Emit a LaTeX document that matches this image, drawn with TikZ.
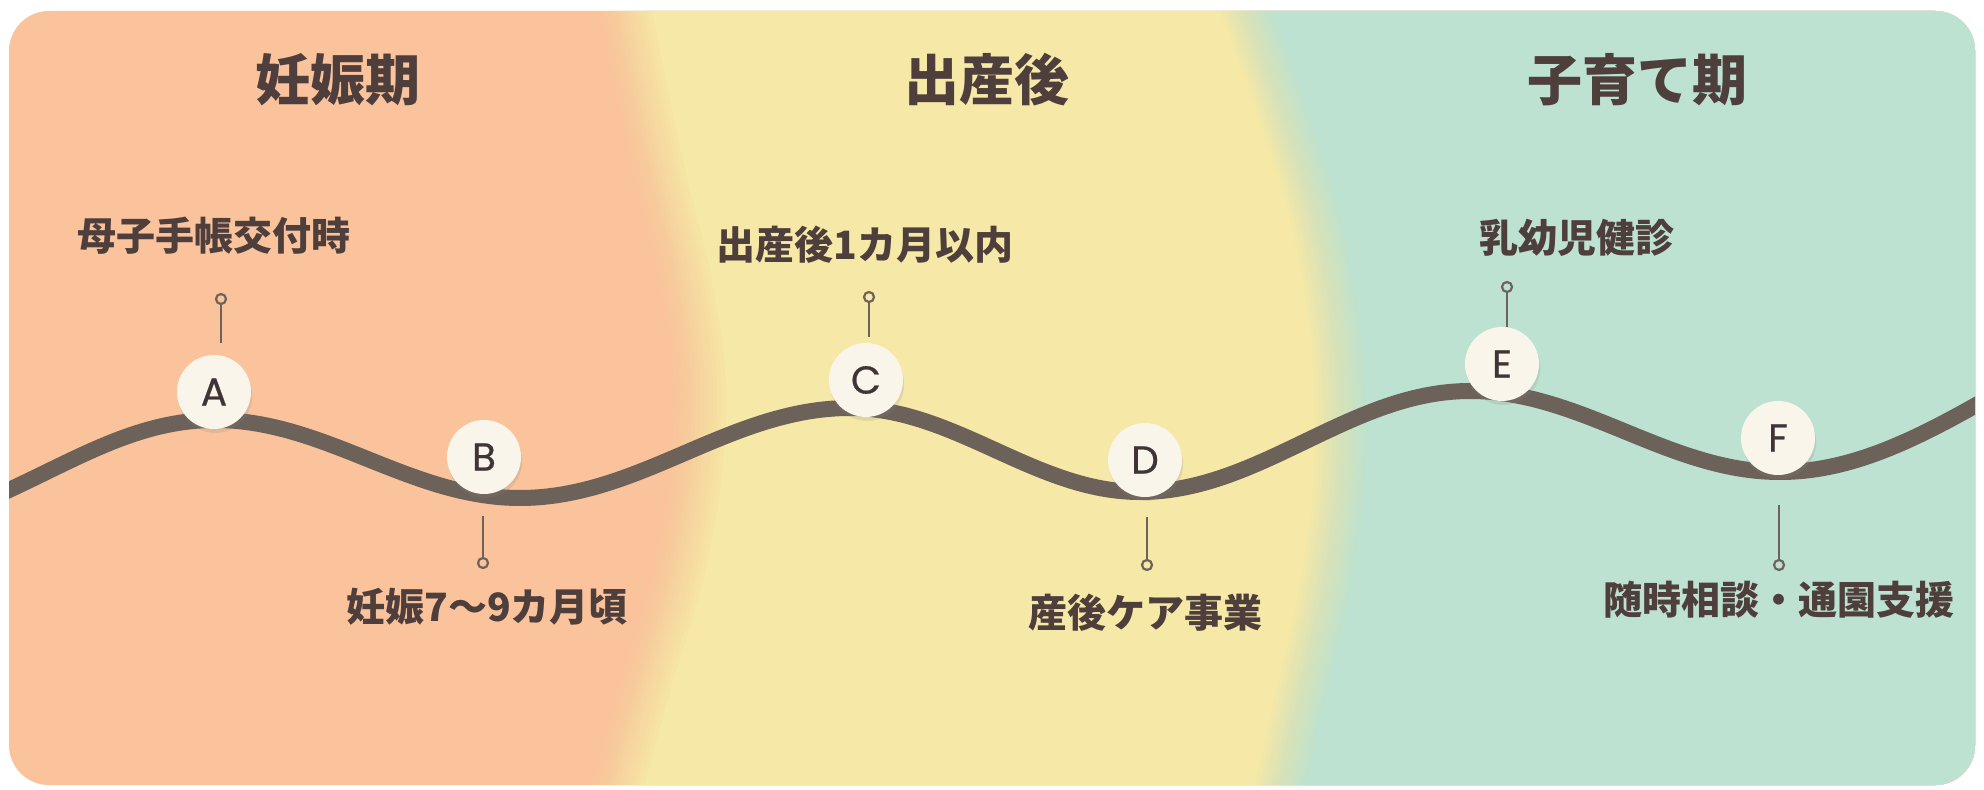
\documentclass[tikz,border=0pt]{standalone}
\usepackage{fontspec}
\usetikzlibrary{shadows}
\newfontfamily\jp{Noto Sans CJK JP}
\newfontfamily\letterfont{Poppins}[FakeBold=0.6]
\definecolor{peach}{RGB}{250,195,155}
\definecolor{yel}{RGB}{246,232,166}
\definecolor{mint}{RGB}{189,226,209}
\definecolor{txt}{RGB}{78,62,60}
\definecolor{wavec}{RGB}{108,98,90}
\definecolor{stemc}{RGB}{110,98,90}
\definecolor{cream}{RGB}{249,245,235}
\definecolor{ltr}{RGB}{64,52,54}
\tikzset{
  stagetitle/.style={text=txt, font=\jp\bfseries\fontsize{27.5}{30}\selectfont, inner sep=0pt},
  eventlbl/.style={text=txt, font=\jp\bfseries\fontsize{19.5}{22}\selectfont, inner sep=0pt},
  eventmark/.style={circle, fill=cream, minimum size=37pt, inner sep=0pt, text=ltr,
    font=\letterfont\fontsize{19.5}{20}\selectfont,
    drop shadow={opacity=0.18, shadow xshift=0.6pt, shadow yshift=-2pt}},
  pindot/.style={circle, draw=stemc, line width=1.1pt, minimum size=5pt, inner sep=0pt},
  pinline/.style={draw=stemc, line width=1.1pt},
  wavy/.style={draw=wavec, line width=8pt},
}
\begin{document}
\begin{tikzpicture}[x=0.5pt,y=-0.5pt]
\useasboundingbox (0,0) rectangle (1984,790);
\fill[white] (0,0) rectangle (1984,790);
\begin{scope}
\clip[rounded corners=20pt] (9,11) rectangle (1975,785);
\fill[peach] (0,0) rectangle (1984,790);
% peach -> yellow
\foreach \k in {1,...,13}{
  \pgfmathsetmacro\op{1/(14-\k)}
  \pgfmathsetmacro\sh{(-26+4.3*(\k-1))*0.5}
  \fill[yel, opacity=\op, xshift=\sh pt] plot[smooth, tension=0.7] coordinates {(620,-20) (655,150) (690,300) (700,420) (682,560) (642,700) (612,810)} -- (2100,810) -- (2100,-20) -- cycle;
}
% yellow -> mint
\foreach \k in {1,...,13}{
  \pgfmathsetmacro\op{1/(14-\k)}
  \pgfmathsetmacro\sh{(-26+4.3*(\k-1))*0.5}
  \fill[mint, opacity=\op, xshift=\sh pt] plot[smooth, tension=0.7] coordinates {(1235,-20) (1285,120) (1325,260) (1341,420) (1330,560) (1300,700) (1275,810)} -- (2100,810) -- (2100,-20) -- cycle;
}
% wave
\draw[wavy] (0,494) -- (9,490) .. controls (80,457) and (140,420) .. (215,420)
 .. controls (325,420) and (410,498) .. (520,498)
 .. controls (640,498) and (730,408) .. (850,408)
 .. controls (955,408) and (1035,492) .. (1140,492)
 .. controls (1260,492) and (1350,391) .. (1470,391)
 .. controls (1582,391) and (1668,472) .. (1780,472)
 .. controls (1850,472) and (1915,440) .. (1985,400);
\end{scope}

% titles
\node[stagetitle] (t1) at (338,80) {妊娠期};
\node[stagetitle] (t2) at (987,80) {出産後};
\node[stagetitle] (t3) at (1637,80) {子育て期};

% markers
\node[eventmark] (A) at (214,392) {A};
\node[eventmark] (B) at (484,457) {B};
\node[eventmark] (C) at (866,380) {C};
\node[eventmark] (D) at (1145,460) {D};
\node[eventmark] (E) at (1502,364) {E};
\node[eventmark] (F) at (1778,438) {F};

% pins
\node[pindot] (dA) at (221,299) {};
\coordinate (sA) at (221,343);
\draw[pinline] (dA) -- (sA);
\node[pindot] (dB) at (483,563) {};
\coordinate (sB) at (483,516);
\draw[pinline] (sB) -- (dB);
\node[pindot] (dC) at (869,297) {};
\coordinate (sC) at (869,337);
\draw[pinline] (dC) -- (sC);
\node[pindot] (dD) at (1147,565) {};
\coordinate (sD) at (1147,517);
\draw[pinline] (sD) -- (dD);
\node[pindot] (dE) at (1507,287) {};
\coordinate (sE) at (1507,327);
\draw[pinline] (dE) -- (sE);
\node[pindot] (dF) at (1779,565) {};
\coordinate (sF) at (1779,505);
\draw[pinline] (sF) -- (dF);

% labels
\node[eventlbl] (lA) at (214,236) {母子手帳交付時};
\node[eventlbl] (lB) at (487,607) {妊娠7〜9カ月頃};
\node[eventlbl] (lC) at (865,245) {出産後1カ月以内};
\node[eventlbl] (lD) at (1145,613) {産後ケア事業};
\node[eventlbl] (lE) at (1577,238) {乳幼児健診};
\node[eventlbl] (lF) at (1779,600) {随時相談・通園支援};
\end{tikzpicture}
\end{document}
